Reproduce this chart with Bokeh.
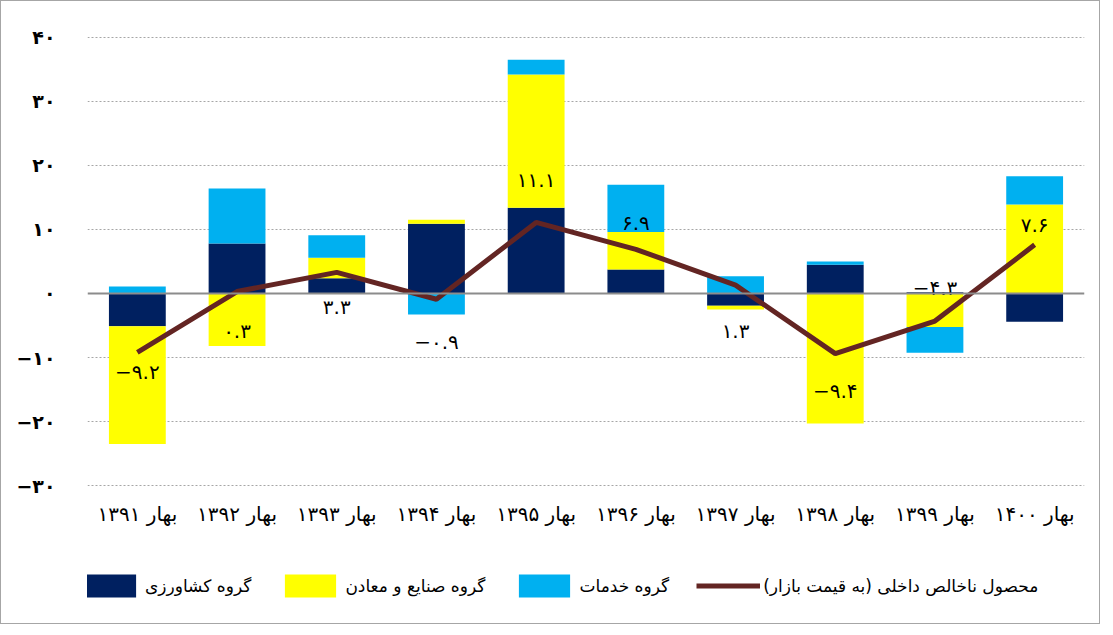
from bokeh.plotting import figure
from bokeh.models import (ColumnDataSource, FixedTicker, Span, Legend, LegendItem)
from bokeh.core.properties import value
from bokeh.embed import file_html
from bokeh.resources import INLINE
import numpy as np

categories = ["بهار ۱۳۹۱", "بهار ۱۳۹۲", "بهار ۱۳۹۳", "بهار ۱۳۹۴", "بهار ۱۳۹۵",
              "بهار ۱۳۹۶", "بهار ۱۳۹۷", "بهار ۱۳۹۸", "بهار ۱۳۹۹", "بهار ۱۴۰۰"]
agriculture = [-5.1, 7.8, 2.4, 10.9, 13.4, 3.75, -1.9, 4.5, 0.2, -4.4]
industry = [-18.4, -8.2, 3.2, 0.6, 20.8, 5.85, -0.6, -20.3, -5.25, 13.9]
services = [1.1, 8.6, 3.5, -3.3, 2.3, 7.4, 2.7, 0.5, -4.0, 4.4]
gdp = [-9.2, 0.3, 3.3, -0.9, 11.1, 6.9, 1.3, -9.4, -4.3, 7.6]
y_ticks = [-30, -20, -10, 0, 10, 20, 30, 40]

series_names = ["گروه کشاورزی", "گروه صنایع و معادن", "گروه خدمات"]
line_name = "محصول ناخالص داخلی (به قیمت بازار)"

# layout / style (the frame is extended downward so the legend fits inside it)
label_offset_up = [-20, -39, -35, -43, 42, 26, -46, -37, 33, 20]
colors = ["#002060", "#FFFF00", "#00B0F0"]
line_color = "#632523"
FONT = "DejaVu Sans"
Y_RANGE = (-50.3, 40.3)
X_AXIS_AT = -37.5

fa_digits = str.maketrans("0123456789-", "۰۱۲۳۴۵۶۷۸۹−")


def fa(v):
    s = f"{v:g}" if isinstance(v, int) else f"{v:.1f}"
    return s.translate(fa_digits)


p = figure(x_range=categories, y_range=Y_RANGE, width=1100, height=624,
           output_backend="svg", toolbar_location=None, x_axis_location="above",
           min_border_left=86, min_border_right=17, min_border_top=34, min_border_bottom=10)
p.styles = {"border": "1px solid #a6a6a6"}
p.outline_line_color = None
p.background_fill_color = "white"

# stacked bars (positives stacked up, negatives stacked down)
pos_base = np.zeros(len(categories))
neg_base = np.zeros(len(categories))
renderers = []
for vals, col in zip([agriculture, industry, services], colors):
    v = np.array(vals, dtype=float)
    bottom = np.where(v >= 0, pos_base, neg_base)
    top = bottom + v
    pos_base = np.where(v >= 0, top, pos_base)
    neg_base = np.where(v < 0, top, neg_base)
    src = ColumnDataSource(dict(x=categories, top=top, bottom=bottom))
    r = p.vbar(x="x", top="top", bottom="bottom", width=0.57, source=src,
               fill_color=col, line_color=None)
    renderers.append(r)

p.add_layout(Span(location=0, dimension="width", line_color="#8c8c8c", line_width=2))

lsrc = ColumnDataSource(dict(x=categories, y=gdp, lab=[fa(v) for v in gdp],
                             dy=[-o for o in label_offset_up]))
lr = p.line(x="x", y="y", source=lsrc, line_color=line_color, line_width=5)
p.text(x="x", y="y", text="lab", source=lsrc, y_offset="dy",
       text_align="center", text_baseline="middle", text_font=value(FONT),
       text_font_size="20px", text_color="black")

# axes
p.yaxis.ticker = FixedTicker(ticks=y_ticks)
p.yaxis.major_label_overrides = {t: fa(t) for t in y_ticks}
p.yaxis.axis_line_color = None
p.yaxis.major_tick_line_color = None
p.yaxis.minor_tick_line_color = None
p.yaxis.major_label_standoff = 26
p.yaxis.major_label_text_font = FONT
p.yaxis.major_label_text_font_size = "19px"
p.yaxis.major_label_text_font_style = "bold"
p.yaxis.major_label_text_color = "black"

p.xaxis.fixed_location = X_AXIS_AT
p.xaxis.axis_line_color = None
p.xaxis.major_tick_line_color = None
p.xaxis.major_label_standoff = 2
p.xaxis.major_label_text_font = FONT
p.xaxis.major_label_text_font_size = "20px"
p.xaxis.major_label_text_color = "black"

p.xgrid.grid_line_color = None
p.ygrid.ticker = FixedTicker(ticks=[t for t in y_ticks if t != 0])
p.ygrid.grid_line_color = "#a6a6a6"
p.ygrid.grid_line_dash = "2 2"
p.ygrid.grid_line_width = 1

legend = Legend(items=[LegendItem(label=series_names[0], renderers=[renderers[0]]),
                       LegendItem(label=series_names[1], renderers=[renderers[1]]),
                       LegendItem(label=series_names[2], renderers=[renderers[2]]),
                       LegendItem(label=line_name, renderers=[lr])],
                orientation="horizontal", location=(-9, 15),
                glyph_width=64, glyph_height=29, label_standoff=3, spacing=27,
                padding=0, margin=0, border_line_color=None, background_fill_alpha=0,
                label_text_font=FONT, label_text_font_size="17px", label_text_color="black")
p.add_layout(legend, "center")

open("out.html", "w").write(file_html(p, INLINE))
